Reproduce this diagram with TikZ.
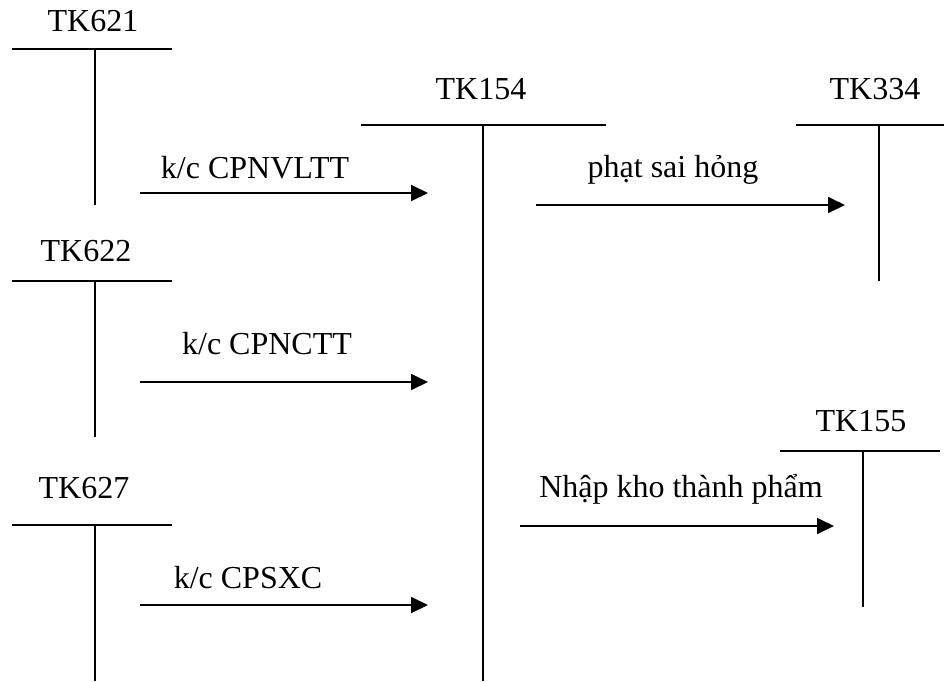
\documentclass[tikz,border=0pt]{standalone}
\usepackage{fontspec}
\setmainfont{Liberation Serif}
\usetikzlibrary{arrows.meta}
\begin{document}
\begin{tikzpicture}[x=1pt,y=-1pt,
  tline/.style={line width=1.6pt},
  flow/.style={line width=1.8pt,-{Triangle[length=17pt,width=16pt]}},
  lbl/.style={anchor=base,inner sep=0pt,font=\fontsize{32}{38}\selectfont}]
\useasboundingbox (0,0) rectangle (944,681);
% T-accounts
\node[lbl] (t621) at (93,31) {TK621};
\draw[tline] (12,49) -- (172,49) (95,49) -- (95,205);
\node[lbl] (t622) at (86,261) {TK622};
\draw[tline] (12,281) -- (172,281) (95,281) -- (95,437);
\node[lbl] (t627) at (84,498) {TK627};
\draw[tline] (12,525) -- (172,525) (95,525) -- (95,681);
\node[lbl] (t154) at (481,99) {TK154};
\draw[tline] (361,125) -- (606,125) (483,125) -- (483,681);
\node[lbl] (t334) at (875,99) {TK334};
\draw[tline] (796,125) -- (944,125) (879,125) -- (879,281);
\node[lbl] (t155) at (861,431) {TK155};
\draw[tline] (780,451) -- (940,451) (863,451) -- (863,607);
% arrow end points
\coordinate (a1s) at (140,193); \coordinate (a1e) at (428,193);
\coordinate (a2s) at (140,382); \coordinate (a2e) at (428,382);
\coordinate (a3s) at (140,605); \coordinate (a3e) at (428,605);
\coordinate (a4s) at (536,205); \coordinate (a4e) at (845,205);
\coordinate (a5s) at (520,526); \coordinate (a5e) at (834,526);
\draw[flow] (a1s) -- (a1e);
\draw[flow] (a2s) -- (a2e);
\draw[flow] (a3s) -- (a3e);
\draw[flow] (a4s) -- (a4e);
\draw[flow] (a5s) -- (a5e);
% labels
\node[lbl] (l1) at (255,178) {k/c CPNVLTT};
\node[lbl] (l2) at (267,354) {k/c CPNCTT};
\node[lbl] (l3) at (248,588) {k/c CPSXC};
\node[lbl] (l4) at (673,177) {phạt sai hỏng};
\node[lbl] (l5) at (681,497) {Nhập kho thành phẩm};
\end{tikzpicture}
\end{document}
